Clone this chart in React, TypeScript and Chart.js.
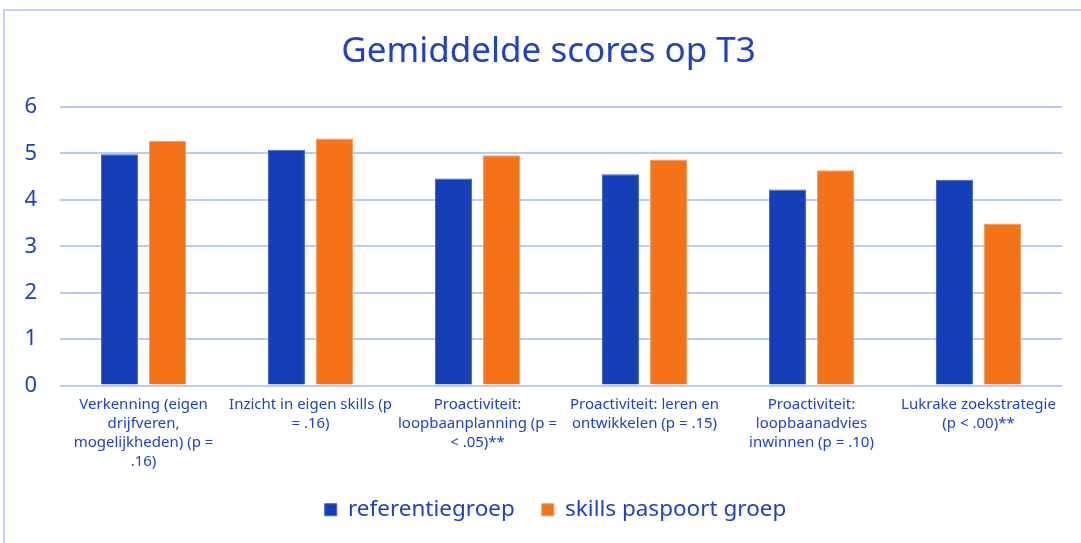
import React, { useEffect, useRef } from "react";
import { Chart, registerables } from "chart.js";

Chart.register(...registerables);

const TITLE = "Gemiddelde scores op T3";
const categories: string[][] = [
  ["Verkenning (eigen", "drijfveren,", "mogelijkheden) (p =", ".16)"],
  ["Inzicht in eigen skills (p", "= .16)"],
  ["Proactiviteit:", "loopbaanplanning (p =", "< .05)**"],
  ["Proactiviteit: leren en", "ontwikkelen (p = .15)"],
  ["Proactiviteit:", "loopbaanadvies", "inwinnen (p = .10)"],
  ["Lukrake zoekstrategie", "(p < .00)**"],
];
const seriesNames = ["referentiegroep", "skills paspoort groep"];
const referentiegroep = [4.98, 5.08, 4.46, 4.55, 4.22, 4.43];
const skillsPaspoort = [5.27, 5.32, 4.96, 4.87, 4.64, 3.49];
const yTicks = [0, 1, 2, 3, 4, 5, 6];

const BLUE = "#143FB7";
const ORANGE = "#F47319";
const TEXT = "#1D43C4";
const GRID = "#B7CAF8";
const FONT = "'Noto Sans', sans-serif";

const boxShift = {
  id: "boxShift",
  afterLayout(chart: any) {
    const lg = chart.legend;
    if (lg) {
      lg.left += 12;
      lg.right += 12;
    }
    const tt = chart.titleBlock;
    if (tt) {
      tt.left += 5;
      tt.right += 5;
    }
  },
};

export default function App() {
  const ref = useRef<HTMLCanvasElement | null>(null);
  useEffect(() => {
    if (!ref.current) return;
    const chart = new Chart(ref.current, {
      type: "bar",
      data: {
        labels: categories,
        datasets: [
          {
            label: seriesNames[0],
            data: referentiegroep,
            backgroundColor: BLUE,
            borderColor: "#3D62CC",
            borderWidth: 1,
            barPercentage: 0.77,
            categoryPercentage: 0.576,
          },
          {
            label: seriesNames[1],
            data: skillsPaspoort,
            backgroundColor: ORANGE,
            borderColor: "#F79A5A",
            borderWidth: 1,
            barPercentage: 0.77,
            categoryPercentage: 0.576,
          },
        ],
      },
      plugins: [boxShift],
      options: {
        responsive: false,
        animation: false,
        devicePixelRatio: 1,
        layout: { padding: { top: 10, left: 25, right: 19, bottom: 12 } },
        plugins: {
          title: {
            display: true,
            text: TITLE,
            color: TEXT,
            font: { family: FONT, size: 35, weight: "normal" },
            padding: { top: 21, bottom: 34 },
          },
          legend: {
            position: "bottom",
            labels: {
              color: TEXT,
              font: { family: FONT, size: 22.5 },
              boxWidth: 12,
              boxHeight: 12,
              padding: 27,
            },
          },
          tooltip: { enabled: false },
        },
        scales: {
          x: {
            grid: { display: false, drawTicks: false },
            border: { display: false },
            afterFit: (axis: any) => {
              axis.height = 86;
            },
            ticks: {
              color: TEXT,
              font: { family: FONT, size: 15, lineHeight: 1.27 },
              maxRotation: 0,
              autoSkip: false,
              padding: 10,
            },
          },
          y: {
            min: 0,
            max: 6,
            afterBuildTicks: (axis: any) => {
              axis.ticks = yTicks.map((v) => ({ value: v }));
            },
            afterFit: (axis: any) => {
              axis.width = 35;
            },
            grid: { color: GRID, lineWidth: 2, drawTicks: false },
            border: { display: false },
            ticks: {
              color: TEXT,
              font: { family: FONT, size: 22 },
              padding: 23,
            },
          },
        },
      },
    });
    return () => chart.destroy();
  }, []);

  return (
    <div
      style={{
        position: "fixed",
        left: 0,
        top: 0,
        width: 1081,
        height: 543,
        overflow: "hidden",
        background: "#fff",
      }}
    >
      <div
        style={{
          position: "absolute",
          left: 3,
          top: 9,
          width: 1200,
          height: 700,
          border: "2px solid #C3D1F6",
        }}
      />
      <canvas
        ref={ref}
        width={1081}
        height={543}
        style={{ position: "absolute", left: 0, top: 0, width: 1081, height: 543 }}
      />
    </div>
  );
}
